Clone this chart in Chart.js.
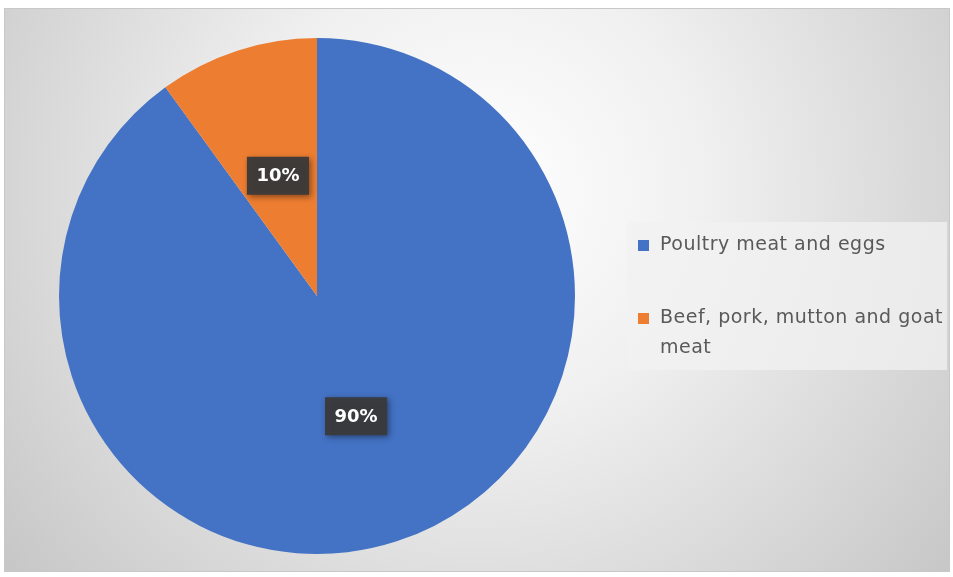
<!DOCTYPE html>
<html>
<head>
<meta charset="utf-8">
<script src="https://cdn.jsdelivr.net/npm/chart.js@4/dist/chart.umd.min.js"></script>
<style>
    html, body { margin: 0; padding: 0; background: #ffffff; }
    #wrap { width: 953px; height: 577px; position: relative; }
</style>
</head>
<body>
<div id="wrap"><canvas id="chart"></canvas></div>
<script>
const categories = ['Poultry meat and eggs', 'Beef, pork, mutton and goat meat'];
const legendLines = [['Poultry meat and eggs'], ['Beef, pork, mutton and goat', 'meat']];
const shares = [90, 10];
const sliceColors = ['#4472C4', '#ED7D31'];

// frame with the grey radial fill behind everything
const backgroundPlugin = {
    id: 'backdrop',
    beforeDraw(chart) {
        const ctx = chart.ctx;
        ctx.save();
        ctx.fillStyle = '#ffffff';
        ctx.fillRect(0, 0, chart.width, chart.height);
        const grad = ctx.createRadialGradient(480, 190, 0, 480, 190, 650);
        grad.addColorStop(0, '#ffffff');
        grad.addColorStop(0.35, '#f0f0f0');
        grad.addColorStop(1, '#c2c2c2');
        ctx.fillStyle = grad;
        ctx.fillRect(4, 8, 946, 564);
        ctx.strokeStyle = '#c8c8c8';
        ctx.lineWidth = 1;
        ctx.strokeRect(4.5, 8.5, 945, 563);
        ctx.restore();
    }
};

// dark boxed percentage labels inside the slices
const sliceLabels = {
    id: 'sliceLabels',
    afterDatasetsDraw(chart) {
        const ctx = chart.ctx;
        const meta = chart.getDatasetMeta(0);
        const data = chart.data.datasets[0].data;
        const total = data.reduce((a, b) => a + b, 0);
        ctx.save();
        ctx.font = 'bold 18px "DejaVu Sans"';
        ctx.textAlign = 'center';
        ctx.textBaseline = 'middle';
        meta.data.forEach((arc, i) => {
            const p = arc.getProps(['x', 'y', 'startAngle', 'endAngle', 'outerRadius'], true);
            const mid = (p.startAngle + p.endAngle) / 2;
            const r = p.outerRadius * 0.49;
            const x = p.x + Math.cos(mid) * r;
            const y = p.y + Math.sin(mid) * r;
            const text = Math.round(data[i] / total * 100) + '%';
            const w = ctx.measureText(text).width + 19;
            const h = 38;
            ctx.shadowColor = 'rgba(0,0,0,0.45)';
            ctx.shadowBlur = 6;
            ctx.shadowOffsetX = 2;
            ctx.shadowOffsetY = 2;
            ctx.fillStyle = 'rgba(58,58,58,0.95)';
            ctx.fillRect(x - w / 2, y - h / 2, w, h);
            ctx.shadowColor = 'transparent';
            ctx.fillStyle = '#ffffff';
            ctx.fillText(text, x, y + 1);
        });
        ctx.restore();
    }
};

// legend box on the right, with wrapped second entry
const sideLegend = {
    id: 'sideLegend',
    afterDraw(chart) {
        const ctx = chart.ctx;
        ctx.save();
        ctx.fillStyle = 'rgba(242,242,242,0.75)';
        ctx.fillRect(627, 222, 320, 148);
        ctx.font = '19px "DejaVu Sans"';
        ctx.letterSpacing = '0.5px';
        ctx.textBaseline = 'middle';
        ctx.textAlign = 'left';
        const rows = [245, 318];
        categories.forEach((c, i) => {
            ctx.fillStyle = sliceColors[i];
            ctx.fillRect(638, rows[i] - 5, 11, 11);
            ctx.fillStyle = '#595959';
            legendLines[i].forEach((line, j) => {
                ctx.fillText(line, 660, rows[i] + j * 30);
            });
        });
        ctx.restore();
    }
};

const ctx = document.getElementById('chart').getContext('2d');
new Chart(ctx, {
    type: 'pie',
    data: {
        labels: categories,
        datasets: [{
            data: shares,
            backgroundColor: sliceColors,
            borderWidth: 0
        }]
    },
    options: {
        responsive: true,
        maintainAspectRatio: false,
        animation: false,
        layout: {
            padding: { left: 58, right: 377, top: 38, bottom: 23 }
        },
        plugins: {
            legend: { display: false },
            tooltip: { enabled: false }
        },
        events: []
    },
    plugins: [backgroundPlugin, sliceLabels, sideLegend]
});
</script>
</body>
</html>
